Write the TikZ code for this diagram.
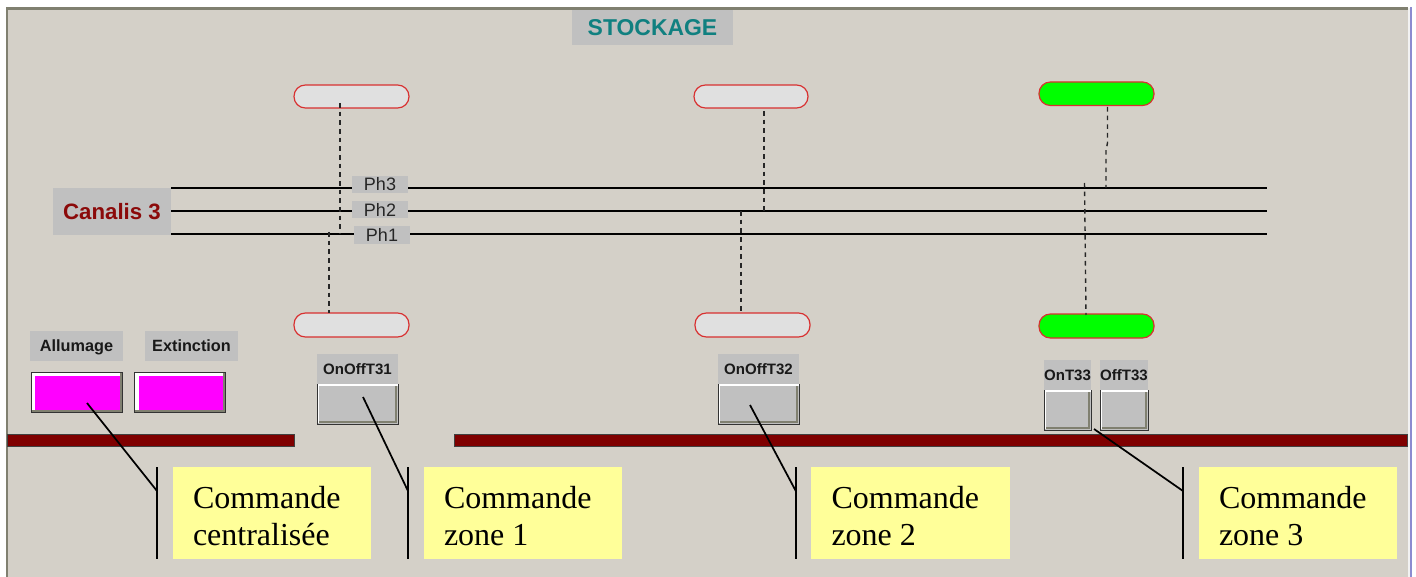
\documentclass[tikz,border=0pt]{standalone}
\usepackage{fontspec}
\setmainfont{Liberation Serif}
\setsansfont{Liberation Sans}
\definecolor{panel}{HTML}{D4D0C8}
\definecolor{edge}{HTML}{808070}
\definecolor{lab}{HTML}{C0C0C0}
\definecolor{barred}{HTML}{7F0000}
\definecolor{canalis}{HTML}{8B0A0A}
\definecolor{stock}{HTML}{108080}
\definecolor{pillred}{HTML}{D83030}
\definecolor{yell}{HTML}{FFFF99}
\definecolor{bluee}{HTML}{8C8CD0}
\definecolor{pinkm}{HTML}{FF00FF}
\tikzset{
  x=0.75pt,y=-0.75pt,
  every node/.style={inner sep=0pt,outer sep=0pt},
  labelbox/.style={fill=lab,font=\sffamily},
  phase/.style={labelbox,font=\fontsize{13.5}{15}\sffamily,text=black!85},
  cmdlab/.style={labelbox,font=\fontsize{12.2}{14}\sffamily\bfseries,text=black!90,text height=8.8pt,text depth=0pt},
  btnlab/.style={labelbox,font=\fontsize{11.3}{14}\sffamily\bfseries,text=black!90,text height=8.1pt,text depth=0pt},
  pill/.style={draw=pillred,line width=0.9pt,rounded corners=8.5pt},
  off/.style={pill,fill=black!12},
  on/.style={pill,fill=green},
  btn/.style={fill=lab},
  magbtn/.style={fill=pinkm},
  note/.style={fill=yell,align=left,font=\fontsize{24}{28.1}\selectfont,text=black},
  bus/.style={fill=barred,draw=black!75,line width=0.6pt},
  phaseline/.style={black,line width=1.05pt},
  tap/.style={black!85,line width=1.05pt,dash pattern=on 3.4pt off 3.1pt},
  leader/.style={black,line width=1.3pt},
}
% \pbox[style]{name}{x1}{y1}{x2}{y2}{text}
\newcommand{\pbox}[7][]{%
  \node[#1,minimum width={(#4-#2)*0.75pt},minimum height={(#5-#3)*0.75pt}] (#6)
    at ({(#2+#4)/2},{(#3+#5)/2}) {#7};}
\newcommand{\bevel}[1]{%
  \draw[edge,line width=1.5pt] ([xshift=-1.6pt,yshift=0pt]#1.north east) -- ([xshift=-1.6pt,yshift=1.6pt]#1.south east) -- ([xshift=0pt,yshift=1.6pt]#1.south west);
  \draw[white,line width=1.3pt] ([xshift=1.2pt,yshift=1pt]#1.south west) -- ([xshift=1.2pt,yshift=-0.65pt]#1.north west) -- ([xshift=0pt,yshift=-0.65pt]#1.north east);
  \draw[black!80,line width=0.75pt] (#1.north west) -- (#1.south west) -- (#1.south east) -- (#1.north east);}
\newcommand{\magbevel}[1]{%
  \draw[white,line width=3pt] ([xshift=1.5pt,yshift=1.5pt]#1.south west) -- ([xshift=1.5pt,yshift=-1.5pt]#1.north west) -- ([xshift=-1.5pt,yshift=-1.5pt]#1.north east);
  \draw[edge,line width=1.5pt] ([xshift=-0.9pt,yshift=0pt]#1.north east) -- ([xshift=-0.9pt,yshift=0.9pt]#1.south east) -- ([xshift=0pt,yshift=0.9pt]#1.south west);
  \draw[black!80,line width=0.75pt] (#1.north west) rectangle (#1.south east);}
\newcommand{\notetxt}[2]{\parbox{148.5pt}{\vspace*{4.2pt}\hspace*{15pt}#1\\\hspace*{15pt}#2}}
\begin{document}
\begin{tikzpicture}
\useasboundingbox (0,0) rectangle (1416,577);
\fill[white] (0,0) rectangle (1416,577);
\fill[panel] (6,8) rectangle (1408,577);
\fill[edge] (6,7.5) rectangle (1408,10);
\fill[edge] (6,7.5) rectangle (8,577);
\fill[black!5] (1408,8) rectangle (1410,577);
\fill[bluee] (1410,7) rectangle (1412,577);

% title
\pbox[labelbox,font=\fontsize{17.2}{20}\sffamily\bfseries,text=stock,text height=12.4pt,text depth=0pt]{572}{10}{733}{45}{title}{STOCKAGE}

% busbar
\pbox[labelbox,font=\fontsize{16.7}{20}\sffamily\bfseries,text=canalis,text height=12pt,text depth=0pt]{53}{188}{171}{235}{canalis}{Canalis 3}
\coordinate (l3a) at (171,188.2); \coordinate (l3b) at (1267,188.2);
\coordinate (l2a) at (171,211.2); \coordinate (l2b) at (1267,211.2);
\coordinate (l1a) at (171,234.2); \coordinate (l1b) at (1267,234.2);
\draw[phaseline] (l3a) -- (l3b);
\draw[phaseline] (l2a) -- (l2b);
\draw[phaseline] (l1a) -- (l1b);

% lamps
\pbox[off]{294}{85}{409}{108}{p1t}{}
\pbox[off]{694}{85}{808}{108}{p2t}{}
\pbox[on]{1039}{82}{1154}{105.5}{p3t}{}
\pbox[off]{294}{313}{409}{337}{p1b}{}
\pbox[off]{695}{313}{810}{337}{p2b}{}
\pbox[on]{1039}{314}{1154}{338}{p3b}{}

% taps
\coordinate (a1) at (340,103); \coordinate (a2) at (340,234);
\coordinate (b1) at (329,232); \coordinate (b2) at (329,313);
\coordinate (c1) at (764,111); \coordinate (c2) at (764,211);
\coordinate (d1) at (741,211); \coordinate (d2) at (741,313);
\coordinate (e1) at (1107.5,107); \coordinate (e2) at (1107.5,143); \coordinate (e3) at (1106,150); \coordinate (e4) at (1106,188);
\coordinate (f1) at (1084.5,183); \coordinate (f2) at (1086,315);
\draw[tap] (a1) -- (a2);
\draw[tap] (b1) -- (b2);
\draw[tap] (c1) -- (c2);
\draw[tap] (d1) -- (d2);
\draw[tap] (e1) -- (e2) -- (e3) -- (e4);
\draw[tap] (f1) -- (f2);

% phase labels
\pbox[phase]{352}{176}{408}{193}{ph3}{Ph3}
\pbox[phase]{352}{201}{408}{218}{ph2}{Ph2}
\pbox[phase]{354}{226}{410}{244}{ph1}{Ph1}

% command labels
\pbox[cmdlab]{30}{331}{123}{361}{lalu}{Allumage}
\pbox[cmdlab]{145}{331}{238}{361}{lext}{Extinction}
\pbox[btnlab]{317}{354}{398}{384}{lt31}{OnOffT31}
\pbox[btnlab]{718}{354}{799}{384}{lt32}{OnOffT32}
\pbox[btnlab]{1044}{360}{1091}{390}{lon33}{OnT33}
\pbox[btnlab]{1100}{360}{1148}{390}{loff33}{OffT33}

% buttons
\pbox[magbtn]{31}{372}{122.5}{412.5}{balu}{}
\pbox[magbtn]{134.5}{372}{225.5}{412.5}{bext}{}
\magbevel{balu}
\magbevel{bext}
\pbox[btn]{317}{384}{398}{424}{bt31}{}
\pbox[btn]{718}{384}{799}{424}{bt32}{}
\pbox[btn]{1044}{390}{1091}{430}{bon33}{}
\pbox[btn]{1100}{390}{1148}{430}{boff33}{}
\bevel{bt31}
\bevel{bt32}
\bevel{bon33}
\bevel{boff33}

% bus bars
\pbox[bus]{7.5}{434.5}{294.5}{446.5}{bar1}{}
\pbox[bus]{454.5}{434.5}{1407.5}{446.5}{bar2}{}

% notes
\pbox[note]{173}{467}{371}{559}{n0}{\notetxt{Commande}{centralisée}}
\pbox[note]{424}{467}{622}{559}{n1}{\notetxt{Commande}{zone 1}}
\pbox[note]{811}{467}{1010}{559}{n2}{\notetxt{Commande}{zone 2}}
\pbox[note]{1199}{467}{1397}{559}{n3}{\notetxt{Commande}{zone 3}}

% leaders
\coordinate (v0a) at (157,467); \coordinate (v0b) at (157,559); \coordinate (k0) at (157,491);
\coordinate (v1a) at (408,467); \coordinate (v1b) at (408,559); \coordinate (k1) at (408,491);
\coordinate (v2a) at (795.8,467); \coordinate (v2b) at (795.8,559); \coordinate (k2) at (795.8,491);
\coordinate (v3a) at (1183,467); \coordinate (v3b) at (1183,559); \coordinate (k3) at (1183,491);
\coordinate (s0) at (87,403); \coordinate (s1) at (363,397); \coordinate (s2) at (750,405); \coordinate (s3) at (1094,429);
\draw[leader] (v0a) -- (v0b); \draw[leader] (s0) -- (k0);
\draw[leader] (v1a) -- (v1b); \draw[leader] (s1) -- (k1);
\draw[leader] (v2a) -- (v2b); \draw[leader] (s2) -- (k2);
\draw[leader] (v3a) -- (v3b); \draw[leader] (s3) -- (k3);
\end{tikzpicture}
\end{document}
